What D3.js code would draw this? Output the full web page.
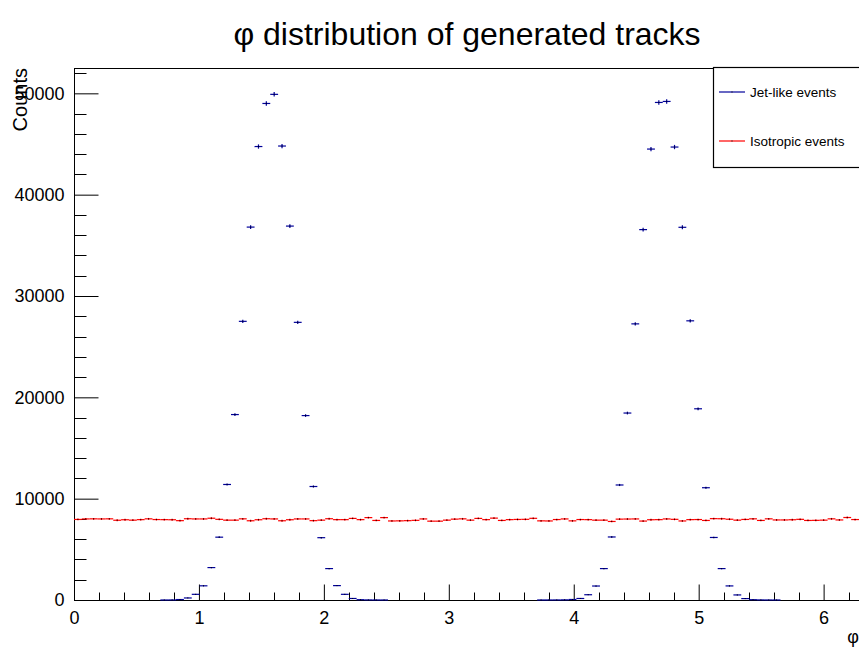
<!DOCTYPE html>
<html>
<head>
<meta charset="utf-8">
<script src="https://cdn.jsdelivr.net/npm/d3@7"></script>
<style>
  body { margin: 0; background: #fff; }
  text { font-family: "Liberation Sans", Arial, sans-serif; }
</style>
</head>
<body>
<div id="chart"></div>
<script>
// 100 bins over [0, 2pi]
var nBins = 100;
var phiMax = 2 * Math.PI;

// jet-like events (bin contents, 0 = empty)
var jetCounts = [
  0, 0, 0, 0, 0, 0, 0, 0, 0, 0,
  0, 1, 5, 45, 200, 560, 1400, 3200, 6200, 11400,
  18300, 27500, 36800, 44750, 49000, 49900, 44800, 36900, 27400, 18200,
  11200, 6150, 3100, 1420, 560, 150, 30, 8, 2, 1,
  0, 0, 0, 0, 0, 0, 0, 0, 0, 0,
  0, 0, 0, 0, 0, 0, 0, 0, 0, 1,
  2, 5, 15, 50, 150, 520, 1380, 3100, 6220, 11350,
  18450, 27250, 36550, 44500, 49100, 49200, 44700, 36780, 27550, 18870,
  11080, 6170, 3100, 1390, 500, 140, 30, 8, 2, 1,
  0, 0, 0, 0, 0, 0, 0, 0, 0, 0
];

// isotropic events
var isoCounts = [
  7950, 8000, 8010, 8000, 8010, 7870, 7920, 7880, 7930, 8010,
  7940, 7930, 7920, 7830, 8020, 8000, 8000, 8070, 7960, 7880,
  7880, 8010, 7820, 7920, 8020, 8000, 7820, 7920, 8000, 8000,
  7830, 7880, 8020, 7930, 7930, 8050, 7930, 8130, 7850, 8130,
  7800, 7810, 7830, 7860, 8000, 7780, 7780, 7880, 7980, 8010,
  7880, 8050, 7930, 8080, 7850, 7930, 7950, 7960, 8060, 7810,
  7800, 7940, 8000, 7810, 7940, 7930, 7880, 7880, 7750, 7980,
  7990, 8000, 7790, 7920, 7930, 8000, 7960, 7800, 7930, 7940,
  7850, 8030, 8020, 7970, 7880, 7950, 8010, 7850, 8010, 7900,
  7900, 7920, 7960, 7850, 7860, 7880, 8010, 7900, 8140, 7940
];

var seriesNames = ["Jet-like events", "Isotropic events"];
var seriesColors = ["#00009a", "#ff0000"];
var yTicks = [0, 10000, 20000, 30000, 40000, 50000];
var xTicks = [0, 1, 2, 3, 4, 5, 6];

var svgWidth = 859, svgHeight = 647;
var plot = { left: 74, right: 859, top: 68, bottom: 600 };

var svg = d3.select("#chart").append("svg")
    .attr("width", svgWidth)
    .attr("height", svgHeight);

var x = d3.scaleLinear().domain([0, phiMax]).range([plot.left, plot.right]);
var y = d3.scaleLinear().domain([0, 52500]).range([plot.bottom, plot.top]);
var binW = phiMax / nBins;

// title
svg.append("text")
    .attr("x", 467).attr("y", 45)
    .attr("text-anchor", "middle")
    .style("font-size", "32px")
    .text("φ distribution of generated tracks");

// frame
svg.append("rect")
    .attr("x", plot.left + 0.5).attr("y", plot.top + 0.5)
    .attr("width", plot.right - plot.left).attr("height", plot.bottom - plot.top)
    .attr("fill", "none").attr("stroke", "#000");

// y axis: major + minor ticks pointing inside
var yAxis = d3.axisLeft(y).tickValues(yTicks).tickSize(-24).tickPadding(10).tickFormat(d3.format("d"));
var gy = svg.append("g").attr("transform", "translate(" + (plot.left + 0.5) + ",0)").call(yAxis);
gy.select(".domain").remove();
gy.selectAll("text").style("font-size", "18px").attr("fill", "#000");
gy.selectAll("line").attr("stroke", "#000");
gy.selectAll(".minor").data(d3.range(0, 52001, 2000).filter(function(d) { return d % 10000 !== 0; }))
  .enter().append("line")
    .attr("x1", 0).attr("x2", 12)
    .attr("y1", function(d) { return Math.round(y(d)) + 0.5; })
    .attr("y2", function(d) { return Math.round(y(d)) + 0.5; })
    .attr("stroke", "#000");

// x axis
var xAxis = d3.axisBottom(x).tickValues(xTicks).tickSize(-16).tickPadding(11).tickFormat(d3.format("d"));
var gx = svg.append("g").attr("transform", "translate(0," + (plot.bottom + 0.5) + ")").call(xAxis);
gx.select(".domain").remove();
gx.selectAll("text").style("font-size", "18px").attr("fill", "#000");
gx.selectAll("line").attr("stroke", "#000");
gx.selectAll(".minor").data(d3.range(0.2, phiMax, 0.2).filter(function(d) { return Math.abs(d - Math.round(d)) > 0.01; }))
  .enter().append("line")
    .attr("x1", function(d) { return Math.round(x(d)) + 0.5; })
    .attr("x2", function(d) { return Math.round(x(d)) + 0.5; })
    .attr("y1", 0).attr("y2", -8)
    .attr("stroke", "#000");

// axis titles
svg.append("text")
    .attr("transform", "translate(27," + plot.top + ") rotate(-90)")
    .attr("text-anchor", "end")
    .style("font-size", "20px")
    .text("Counts");
svg.append("text")
    .attr("x", 859).attr("y", 643)
    .attr("text-anchor", "end")
    .style("font-size", "18px")
    .text("φ");

// histograms drawn as error bars
function drawHist(counts, color) {
  var g = svg.append("g");
  var bins = counts.map(function(c, i) { return { i: i, c: c }; }).filter(function(d) { return d.c > 0; });
  g.selectAll(".h").data(bins).enter().append("line")
      .attr("x1", function(d) { return x(d.i * binW); })
      .attr("x2", function(d) { return x((d.i + 1) * binW); })
      .attr("y1", function(d) { return y(d.c); })
      .attr("y2", function(d) { return y(d.c); })
      .attr("stroke", color).attr("stroke-width", 1.2);
  g.selectAll(".v").data(bins).enter().append("line")
      .attr("x1", function(d) { return x((d.i + 0.5) * binW); })
      .attr("x2", function(d) { return x((d.i + 0.5) * binW); })
      .attr("y1", function(d) { return y(d.c + Math.sqrt(d.c)); })
      .attr("y2", function(d) { return y(d.c - Math.sqrt(d.c)); })
      .attr("stroke", color).attr("stroke-width", 1.2);
  g.selectAll(".m").data(bins).enter().append("rect")
      .attr("x", function(d) { return x((d.i + 0.5) * binW) - 0.5; })
      .attr("y", function(d) { return y(d.c) - 0.5; })
      .attr("width", 1).attr("height", 1)
      .attr("fill", "#000");
}
drawHist(isoCounts, seriesColors[1]);
drawHist(jetCounts, seriesColors[0]);

// legend
var legend = svg.append("g");
legend.append("rect")
    .attr("x", 713.5).attr("y", 67.5).attr("width", 160).attr("height", 100)
    .attr("fill", "#fff").attr("stroke", "#000").attr("stroke-width", 1.2);
seriesNames.forEach(function(name, k) {
  var ly = 92 + k * 49;
  legend.append("line")
      .attr("x1", 719).attr("x2", 745).attr("y1", ly).attr("y2", ly)
      .attr("stroke", seriesColors[k]).attr("stroke-width", 1.2);
  legend.append("rect").attr("x", 731.5).attr("y", ly - 0.5).attr("width", 1).attr("height", 1).attr("fill", "#000");
  legend.append("text")
      .attr("x", 750).attr("y", ly + 5)
      .style("font-size", "13.5px")
      .text(name);
});
</script>
</body>
</html>
